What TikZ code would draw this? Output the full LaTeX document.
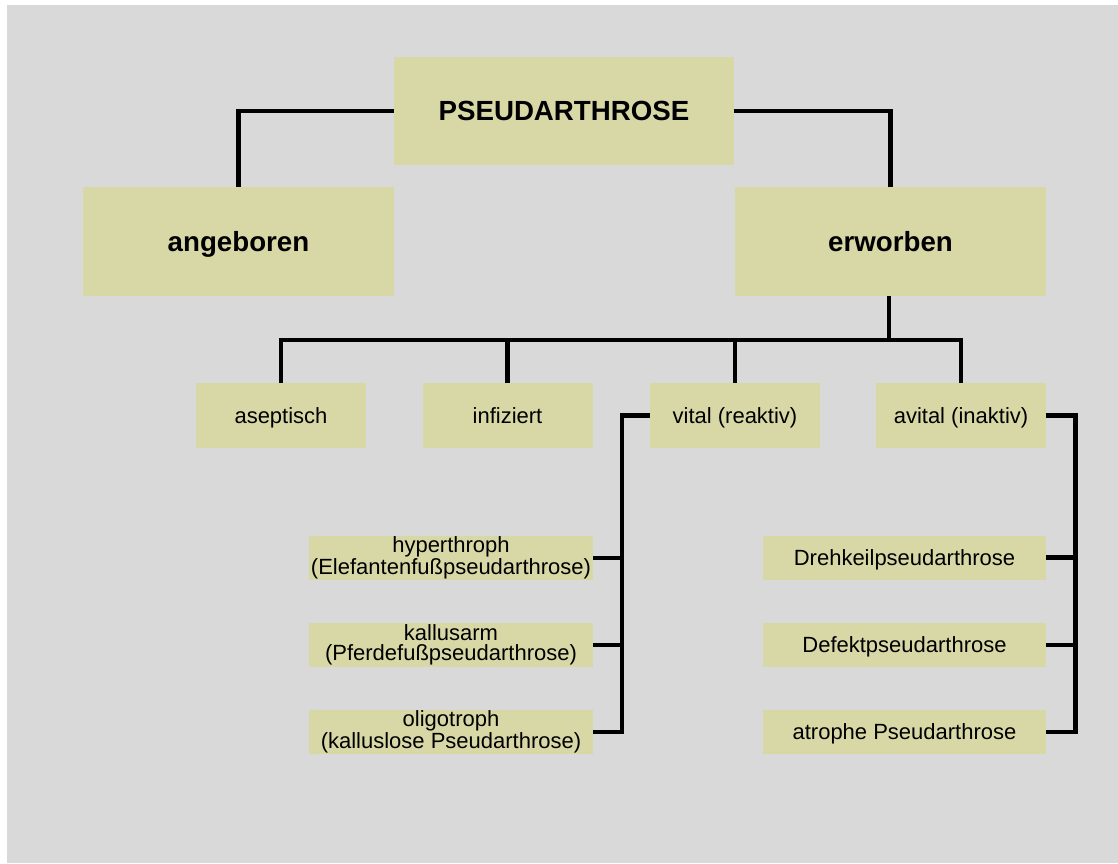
\documentclass[tikz,border=0pt]{standalone}
\usepackage{fontspec}
\setmainfont{Liberation Sans}
\usetikzlibrary{positioning}
\definecolor{boxfill}{RGB}{216,216,167}
\definecolor{bgfill}{RGB}{217,217,217}

\begin{document}
\begin{tikzpicture}[x=1pt,y=-1pt,
  bigbox/.style={fill=boxfill,inner sep=0pt,minimum width=311pt,minimum height=109pt,
    text height=19.8pt,text depth=0pt,font=\fontsize{27.7}{32}\selectfont\bfseries},
  midbox/.style={fill=boxfill,inner sep=0pt,minimum width=170pt,minimum height=65pt,
    text height=15.8pt,text depth=0pt,font=\fontsize{22}{24}\selectfont},
  lowbox/.style={fill=boxfill,inner sep=0pt,minimum width=284pt,minimum height=44pt,
    align=center,font=\fontsize{22}{20.5}\selectfont},
  conn/.style={draw=black,line width=4.6pt}]
  \useasboundingbox (0,0) rectangle (1118,863);
  \fill[bgfill] (7,5) rectangle (1118,863);
  % top levels
  \node[bigbox,minimum width=340pt,minimum height=108pt](top) at (564,111){PSEUDARTHROSE};
  \node[bigbox](angeb) at (238.5,241.5){angeboren};
  \node[bigbox](erworb) at (890.5,241.5){erworben};
  % second level
  \node[midbox](asep) at (281,415.5){aseptisch};
  \node[midbox](infiz) at (507.5,415.5){infiziert};
  \node[midbox](vital) at (735,415.5){vital (reaktiv)};
  \node[midbox](avital) at (961,415.5){avital (inaktiv)};
  % vital
  \node[lowbox](hyper) at (451,558){hyperthroph\\(Elefantenfußpseudarthrose)};
  \node[lowbox](kallus) at (451,645){kallusarm\\(Pferdefußpseudarthrose)};
  \node[lowbox](oligo) at (451,732){oligotroph\\(kalluslose Pseudarthrose)};
  % avital
  \node[lowbox,minimum width=283pt,text height=15.8pt,text depth=0pt](dreh) at (904.5,557.5){Drehkeilpseudarthrose};
  \node[lowbox,minimum width=283pt,text height=15.8pt,text depth=0pt](defekt) at (904.5,645){Defektpseudarthrose};
  \node[lowbox,minimum width=283pt,text height=15.8pt,text depth=0pt](atroph) at (904.5,732){atrophe Pseudarthrose};

  \draw[conn] (top.west) -| (angeb.north);
  \draw[conn] (top.east) -| (erworb.north);
  \coordinate (bus) at (889,340);
  \draw[conn] (erworb.south -| bus) -- (bus);
  \foreach \n in {asep,infiz,vital,avital}
    \draw[conn] (bus) -| (\n.north);
  \foreach \n in {hyper,kallus,oligo}
    \draw[conn] (vital.west) -- ++(-28,0) |- (\n.east);
  \foreach \n in {dreh,defekt,atroph}
    \draw[conn] (avital.east) -- ++(29,0) |- (\n.east);
\end{tikzpicture}
\end{document}
